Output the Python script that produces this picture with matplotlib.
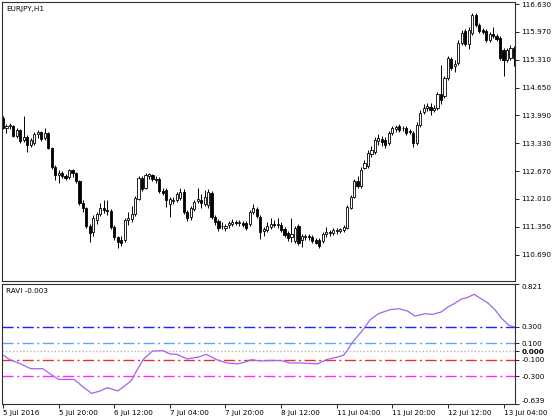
import numpy as np
import matplotlib
matplotlib.use('Agg')
import matplotlib.pyplot as plt

# EURJPY H1 candles, 5 Jul 2016 04:00 .. 13 Jul 2016 07:00
opens = [113.93, 113.69, 113.74, 113.74, 113.50, 113.64, 113.41, 113.48, 113.29, 113.34,
         113.55, 113.60, 113.45, 113.57, 113.22, 112.77, 112.58, 112.62, 112.55, 112.53,
         112.70, 112.62, 112.43, 111.91, 111.80, 111.37, 111.23, 111.51, 111.65, 111.80,
         111.75, 111.72, 111.34, 111.11, 111.04, 111.04, 111.51, 111.53, 111.65, 112.01,
         112.51, 112.27, 112.55, 112.58, 112.48, 112.48, 112.20, 112.22, 111.89, 111.96,
         111.98, 112.03, 112.17, 111.70, 111.58, 111.77, 111.96, 111.98, 111.89, 111.87,
         112.15, 111.58, 111.49, 111.37, 111.32, 111.39, 111.42, 111.46, 111.44, 111.44,
         111.44, 111.42, 111.70, 111.77, 111.58, 111.25, 111.27, 111.34, 111.42, 111.39,
         111.39, 111.30, 111.20, 111.11, 111.01, 111.37, 111.04, 111.11, 111.13, 111.11,
         111.04, 111.04, 111.01, 111.18, 111.23, 111.20, 111.25, 111.25, 111.27, 111.32,
         111.80, 112.06, 112.43, 112.32, 112.74, 112.79, 113.07, 113.12, 113.38, 113.43,
         113.41, 113.34, 113.57, 113.67, 113.74, 113.68, 113.69, 113.62, 113.57, 113.34,
         113.76, 114.07, 114.17, 114.19, 114.12, 114.17, 114.50, 114.45, 114.88, 115.33,
         115.16, 115.23, 115.70, 115.99, 115.68, 115.94, 116.37, 116.13, 116.01, 115.99,
         115.78, 115.92, 115.87, 115.82, 115.54, 115.30, 115.35, 115.59]
highs = [113.98, 113.79, 113.81, 113.76, 113.69, 113.67, 113.98, 113.53, 113.45, 113.60,
         113.64, 113.62, 113.69, 113.60, 113.24, 112.81, 112.70, 112.67, 112.60, 112.72,
         112.72, 112.65, 112.46, 111.98, 111.82, 111.42, 111.63, 111.70, 111.91, 111.98,
         111.98, 111.77, 111.39, 111.13, 111.13, 111.56, 111.70, 111.84, 112.08, 112.55,
         112.55, 112.63, 112.63, 112.60, 112.55, 112.53, 112.27, 112.27, 112.06, 112.06,
         112.17, 112.27, 112.25, 111.75, 111.84, 111.98, 112.27, 112.13, 112.22, 112.25,
         112.20, 111.63, 111.53, 111.46, 111.42, 111.49, 111.53, 111.51, 111.51, 111.49,
         111.49, 111.75, 111.89, 111.82, 111.63, 111.34, 111.46, 111.56, 111.51, 111.56,
         111.46, 111.34, 111.25, 111.56, 111.37, 111.42, 111.18, 111.18, 111.18, 111.16,
         111.08, 111.08, 111.23, 111.34, 111.27, 111.32, 111.32, 111.32, 111.39, 111.87,
         112.10, 112.48, 112.55, 112.77, 112.93, 113.17, 113.26, 113.48, 113.55, 113.50,
         113.48, 113.62, 113.74, 113.76, 113.79, 113.74, 113.74, 113.67, 113.62, 113.83,
         114.12, 114.26, 114.28, 114.28, 114.24, 114.54, 115.18, 114.92, 115.40, 115.37,
         115.30, 115.78, 116.01, 116.04, 116.09, 116.42, 116.42, 116.18, 116.06, 116.04,
         115.97, 116.09, 115.92, 115.87, 115.59, 115.59, 115.66, 115.63]
lows = [113.67, 113.57, 113.67, 113.48, 113.46, 113.34, 113.36, 113.12, 113.24, 113.29,
        113.45, 113.38, 113.41, 113.19, 112.72, 112.46, 112.39, 112.51, 112.46, 112.48,
        112.53, 112.39, 111.87, 111.70, 111.32, 110.99, 111.13, 111.42, 111.60, 111.68,
        111.63, 111.30, 111.04, 110.85, 110.89, 110.99, 111.39, 111.46, 111.60, 111.98,
        112.20, 112.25, 112.48, 112.43, 112.39, 112.15, 112.10, 111.82, 111.58, 111.89,
        111.94, 111.98, 111.65, 111.49, 111.51, 111.72, 111.91, 111.80, 111.84, 111.80,
        111.53, 111.39, 111.25, 111.30, 111.25, 111.32, 111.37, 111.39, 111.37, 111.35,
        111.27, 111.37, 111.65, 111.56, 111.06, 111.13, 111.23, 111.30, 111.35, 111.32,
        111.23, 111.11, 111.01, 110.99, 110.97, 110.92, 110.87, 111.04, 111.04, 110.97,
        110.94, 110.85, 110.97, 111.11, 111.13, 111.16, 111.18, 111.20, 111.23, 111.30,
        111.77, 112.03, 112.27, 112.27, 112.72, 112.74, 113.00, 113.07, 113.29, 113.27,
        113.22, 113.29, 113.53, 113.60, 113.60, 113.62, 113.53, 113.55, 113.24, 113.29,
        113.72, 114.02, 114.09, 114.00, 114.07, 114.12, 114.26, 114.40, 114.83, 115.07,
        115.02, 115.18, 115.66, 115.63, 115.56, 115.90, 116.09, 115.94, 115.92, 115.73,
        115.73, 115.82, 115.75, 115.30, 114.92, 115.26, 115.30, 115.16]
closes = [113.69, 113.74, 113.76, 113.50, 113.64, 113.38, 113.48, 113.29, 113.41, 113.55,
          113.60, 113.43, 113.57, 113.22, 112.77, 112.58, 112.62, 112.55, 112.51, 112.70,
          112.62, 112.43, 111.91, 111.80, 111.37, 111.20, 111.56, 111.65, 111.80, 111.75,
          111.72, 111.34, 111.11, 110.99, 110.97, 111.51, 111.56, 111.65, 112.03, 112.51,
          112.25, 112.58, 112.60, 112.48, 112.46, 112.20, 112.15, 111.98, 112.01, 111.98,
          112.13, 112.17, 111.70, 111.56, 111.80, 111.94, 112.01, 111.91, 112.06, 112.17,
          111.58, 111.46, 111.32, 111.38, 111.37, 111.44, 111.46, 111.44, 111.46, 111.39,
          111.32, 111.70, 111.80, 111.60, 111.23, 111.30, 111.37, 111.42, 111.39, 111.42,
          111.27, 111.16, 111.09, 111.18, 111.32, 110.97, 111.13, 111.13, 111.11, 111.01,
          110.97, 110.90, 111.18, 111.23, 111.20, 111.27, 111.27, 111.30, 111.34, 111.82,
          112.06, 112.43, 112.32, 112.70, 112.86, 113.10, 113.17, 113.41, 113.45, 113.36,
          113.29, 113.57, 113.69, 113.72, 113.64, 113.70, 113.57, 113.60, 113.34, 113.76,
          114.05, 114.17, 114.21, 114.12, 114.17, 114.50, 114.36, 114.88, 115.35, 115.11,
          115.21, 115.70, 115.94, 115.68, 116.01, 116.37, 116.13, 115.99, 115.97, 115.78,
          115.92, 115.87, 115.80, 115.35, 115.30, 115.54, 115.59, 115.35]

# RAVI (bar position, value)
ravi_bar = [0, 2, 5, 8, 11.5, 13.5, 16, 18.5, 20.5, 23, 25.5, 28, 30, 33, 35, 37, 38.5,
            40.5, 43, 46, 48, 50, 53, 56, 58.5, 61.5, 64.5, 67.5, 69.5, 71.5, 74, 77,
            80, 82.5, 85.5, 90.5, 93, 96, 98, 99, 100.5, 103.5, 105.5, 108, 111.5, 114,
            116.5, 118.5, 121.5, 123.5, 126, 128, 129.5, 132, 133.5, 135.5, 136.5, 139.5,
            141.5, 143.5, 145.5, 147]
ravi_val = [-0.045, -0.10, -0.15, -0.21, -0.21, -0.27, -0.34, -0.34, -0.34, -0.43, -0.51,
            -0.48, -0.44, -0.48, -0.42, -0.35, -0.23, -0.09, 0.005, 0.01, -0.03, -0.035,
            -0.09, -0.07, -0.035, -0.10, -0.14, -0.15, -0.13, -0.10, -0.115, -0.11, -0.11,
            -0.14, -0.14, -0.15, -0.10, -0.07, -0.045, 0.01, 0.11, 0.26, 0.38, 0.46, 0.51,
            0.52, 0.49, 0.43, 0.46, 0.45, 0.48, 0.54, 0.575, 0.64, 0.655, 0.695, 0.67,
            0.59, 0.51, 0.40, 0.32, 0.30]

levels = [0.3, 0.1, 0.0, -0.1, -0.3]
level_colors = ['#1f1fff', '#55aaff', '#b4b4b4', '#e83030', '#ff2bff']

price_ticks = [116.630, 115.970, 115.310, 114.650, 113.990, 113.330, 112.670,
               112.010, 111.350, 110.690]
ravi_ticks = [0.821, 0.300, 0.100, 0.000, -0.100, -0.300, -0.639]
time_labels = ['5 Jul 2016', '5 Jul 20:00', '6 Jul 12:00', '7 Jul 04:00', '7 Jul 20:00',
               '8 Jul 12:00', '11 Jul 04:00', '11 Jul 20:00', '12 Jul 12:00', '13 Jul 04:00']

plt.rcParams['font.family'] = 'DejaVu Sans'
plt.rcParams['font.size'] = 5.2

fig = plt.figure(figsize=(5.6, 4.2), dpi=100)
W, H = 560, 420
ax = fig.add_axes([1.7 / W, 1 - 281 / H, 513.3 / W, 279 / H])
ax2 = fig.add_axes([1.7 / W, 1 - 404 / H, 513.3 / W, 120 / H])

o = np.array(opens)
h = np.array(highs)
l = np.array(lows)
c = np.array(closes)
idx = np.arange(len(c))
up = c >= o

ax.vlines(idx, l, h, color='black', lw=0.7, zorder=1)
body = np.maximum(np.abs(c - o), 0.004)
ax.bar(idx[up], body[up], bottom=o[up], width=0.62, color='white',
       edgecolor='black', linewidth=0.6, zorder=2)
ax.bar(idx[~up], body[~up], bottom=c[~up], width=0.62, color='black',
       edgecolor='black', linewidth=0.6, zorder=2)

xlim = (-0.37, 147.3)
ax.set_xlim(*xlim)
ax.set_ylim(110.065, 116.678)
ax.yaxis.tick_right()
ax.set_yticks(price_ticks)
ax.set_yticklabels(['{:.3f}'.format(v) for v in price_ticks])
ax.set_xticks([])
ax.text(0.008, 0.985, 'EURJPY,H1', transform=ax.transAxes, va='top', ha='left')

# sub window
dashdot = (0, (8, 2.5, 1.5, 2.5))
styles = [dashdot, dashdot, (0, (1, 1.5)), dashdot, dashdot]
for lev, col, st in zip(levels, level_colors, styles):
    ax2.axhline(lev, color=col, lw=1.0, linestyle=st, zorder=1)
ax2.plot(ravi_bar, ravi_val, color='#a064f0', lw=0.9, zorder=2)
ax2.set_xlim(*xlim)
ax2.set_ylim(-0.639, 0.821)
ax2.yaxis.tick_right()
ax2.set_yticks(ravi_ticks)
ax2.set_yticklabels(['{:.3f}'.format(v) for v in ravi_ticks])
lbls = ax2.get_yticklabels()
lbls[0].set_va('top')
lbls[-1].set_va('bottom')
lbls[3].set_fontweight('bold')
ax2.set_xticks(np.arange(0, 145, 16))
ax2.set_xticklabels(time_labels, ha='left')
ax2.text(0.008, 0.965, 'RAVI -0.003', transform=ax2.transAxes, va='top', ha='left')

for a in (ax, ax2):
    a.tick_params(direction='out', length=3, width=0.6, pad=1.5, colors='black')
    for s in a.spines.values():
        s.set_linewidth(0.8)
        s.set_color('#303030')
ax2.tick_params(axis='x', pad=1)

fig.savefig('out.png', dpi=100)
